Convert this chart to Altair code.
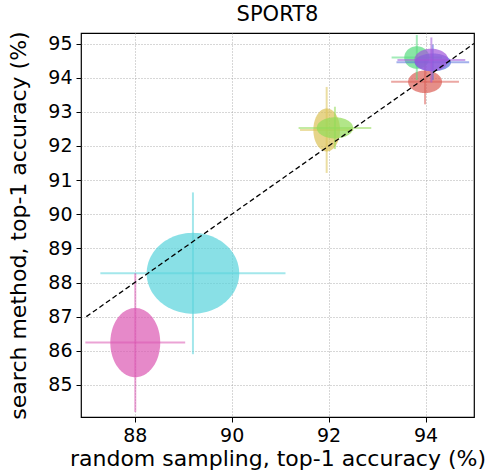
import numpy as np
import pandas as pd
import altair as alt

# ---- data ----
methods = ["m1", "m2", "m3", "m4", "m5", "m6", "m7", "m8"]
colors = ["#db5f57", "#dbc257", "#91db57", "#57db80", "#57d3db", "#5770db", "#a157db", "#db57b2"]
x_mean = [93.99, 91.96, 92.13, 93.82, 89.20, 94.15, 94.12, 88.01]
y_mean = [93.88, 92.47, 92.53, 94.59, 88.27, 94.45, 94.52, 86.24]
x_err = [0.70, 0.55, 0.75, 0.52, 1.91, 0.75, 0.70, 1.03]
y_err = [0.66, 1.26, 0.62, 0.66, 2.37, 0.52, 0.66, 2.03]
diag = [87.0, 95.0]

x_ticks = [88, 90, 92, 94]
y_ticks = [85, 86, 87, 88, 89, 90, 91, 92, 93, 94, 95]
x_domain = [86.89, 95.0]
y_domain = [84.06, 95.31]
x_title = "random sampling, top-1 accuracy (%)"
y_title = "search method, top-1 accuracy (%)"

FONT = "DejaVu Sans"

pts = pd.DataFrame({
    "method": methods, "xm": x_mean, "ym": y_mean,
    "xlo": [m - e for m, e in zip(x_mean, x_err)],
    "xhi": [m + e for m, e in zip(x_mean, x_err)],
    "ylo": [m - e for m, e in zip(y_mean, y_err)],
    "yhi": [m + e for m, e in zip(y_mean, y_err)],
})

# ellipse outlines (semi-axes = half of the error bar lengths)
t = np.linspace(0, np.pi, 61)
rows = []
for m, cx, cy, ex, ey in zip(methods, x_mean, y_mean, x_err, y_err):
    a, b = ex / 2, ey / 2
    for tt in t:
        rows.append({"method": m, "x": cx + a * np.cos(tt),
                     "y1": cy - b * np.sin(tt), "y2": cy + b * np.sin(tt)})
ell = pd.DataFrame(rows)

xs = alt.Scale(domain=x_domain, nice=False, zero=False)
ys = alt.Scale(domain=y_domain, nice=False, zero=False)
cs = alt.Scale(domain=methods, range=colors)

x_axis = alt.Axis(values=x_ticks, format="d", titleY=31, titleBaseline="top",
                  labelOverlap=False)
y_axis = alt.Axis(values=y_ticks, format="d", labelOverlap=False, titlePadding=17)


def X(f):
    return alt.X(f, type="quantitative", scale=xs, axis=x_axis, title=x_title)


def Y(f):
    return alt.Y(f, type="quantitative", scale=ys, axis=y_axis, title=y_title)


C = alt.Color("method:N", scale=cs, legend=None)

layers = []
for m in methods:
    p = pts[pts.method == m]
    e = ell[ell.method == m]
    h = alt.Chart(p).mark_rule(strokeWidth=2, opacity=0.55).encode(
        x=X("xlo"), x2="xhi:Q", y=Y("ym"), color=C)
    v = alt.Chart(p).mark_rule(strokeWidth=2, opacity=0.55).encode(
        x=X("xm"), y=Y("ylo"), y2="yhi:Q", color=C)
    a = alt.Chart(e).mark_area(opacity=0.7).encode(
        x=X("x"), y=Y("y1"), y2="y2:Q", color=C)
    layers += [h, v, a]

line = alt.Chart(pd.DataFrame({"x": diag, "y": diag})).mark_line(
    color="black", strokeWidth=1.3, strokeDash=[5, 3]).encode(x=X("x"), y=Y("y"))

chart = alt.layer(*layers, line).properties(
    width=393, height=384, background="white",
    title=alt.TitleParams("SPORT8", fontSize=21, font=FONT, fontWeight="normal",
                          color="black", offset=6),
    autosize=alt.AutoSizeParams(type="none"),
    padding={"left": 81, "top": 33, "right": 11, "bottom": 57},
).configure_view(stroke="black", strokeWidth=1.2).configure_axis(
    domain=False, grid=True, gridDash=[1, 2], gridColor="#999999", gridWidth=0.8,
    ticks=True, tickSize=5, tickColor="black", labelPadding=4,
    labelFont=FONT, labelFontSize=19, labelColor="black",
    titleFont=FONT, titleFontSize=22, titleFontWeight="normal", titleColor="black",
)

chart.save("out.html", embed_options={"renderer": "svg", "actions": False})
